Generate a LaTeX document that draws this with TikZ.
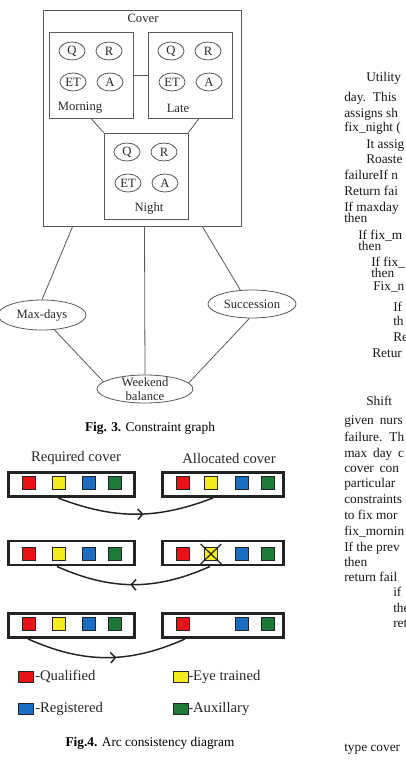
\documentclass[tikz,border=0pt]{standalone}
\usepackage{fontspec}
\setmainfont{Liberation Serif}
\usetikzlibrary{shapes.geometric,calc,arrows.meta,decorations.markings}
\definecolor{LineGray}{RGB}{90,90,90}
\definecolor{TextDark}{RGB}{40,40,40}
\definecolor{BoxEdge}{RGB}{35,35,35}
\definecolor{QualRed}{RGB}{230,20,25}
\definecolor{EyeYellow}{RGB}{245,236,30}
\definecolor{RegBlue}{RGB}{25,110,195}
\definecolor{AuxGreen}{RGB}{30,120,55}

\begin{document}
\begin{tikzpicture}[x=0.75pt,y=-0.75pt,
  shiftbox/.style={draw=LineGray,line width=0.7pt,minimum width=63pt,minimum height=64.5pt,inner sep=0pt},
  grade/.style={ellipse,draw=LineGray,line width=0.6pt,minimum width=19.5pt,minimum height=13.5pt,inner sep=0pt,font=\fontsize{9.5}{11}\selectfont,text=TextDark},
  cons/.style={ellipse,draw=LineGray,line width=0.6pt,inner sep=0pt,font=\fontsize{9.5}{10}\selectfont,text=TextDark},
  lbl/.style={font=\fontsize{9.5}{10}\selectfont,text=TextDark,inner sep=0pt},
  link/.style={LineGray,line width=0.6pt},
  covbox/.style={draw=BoxEdge,line width=2.2pt,minimum height=18pt,inner sep=0pt},
  sq/.style={draw=BoxEdge,line width=0.6pt,minimum width=10pt,minimum height=9.5pt,inner sep=0pt},
  legend/.style={font=\fontsize{11}{13}\selectfont,text=TextDark,anchor=west,inner sep=0pt},
  head/.style={font=\fontsize{11}{13}\selectfont,text=TextDark,inner sep=0pt},
  caption/.style={font=\fontsize{10}{12}\selectfont,text=black,inner sep=0pt},
  arcflow/.style={BoxEdge,line width=1.1pt,postaction={decorate},
    decoration={markings,mark=at position #1 with {\arrow{Straight Barb[length=3.5pt,width=8pt,line width=1.1pt]}}}},
  col/.style={font=\fontsize{10}{12}\selectfont,text=black!90,anchor=base west,inner sep=0pt},
  wide/.style={col,execute at begin node={\spaceskip=4.4pt\relax}}
]
\fill[white] (0,0) rectangle (406,768);
\useasboundingbox (0,0) rectangle (406,768);
\clip (0,0) rectangle (406,768);

% Fig. 3: constraint graph
\node[draw=LineGray,line width=0.7pt,minimum width=149pt,minimum height=162pt,inner sep=0pt] (cover) at (142.5,118) {};
\node[lbl] (covertxt) at (143,18) {Cover};

\node[shiftbox] (morn) at (91,75) {};
\node[grade] (mornQ) at (72,51) {Q};
\node[grade] (mornR) at (109,51) {R};
\node[grade] (mornET) at (73,82) {ET};
\node[grade] (mornA) at (110,82) {A};
\node[lbl] (morntxt) at (80,108) {Morning};

\node[shiftbox] (late) at (190,75) {};
\node[grade] (lateQ) at (171,51) {Q};
\node[grade] (lateR) at (208,51) {R};
\node[grade] (lateET) at (172,82) {ET};
\node[grade] (lateA) at (209,82) {A};
\node[lbl] (latetxt) at (178,108) {Late};

\node[shiftbox] (night) at (146,176) {};
\node[grade] (nightQ) at (127,152) {Q};
\node[grade] (nightR) at (164,152) {R};
\node[grade] (nightET) at (128,183) {ET};
\node[grade] (nightA) at (165,183) {A};
\node[lbl] (nighttxt) at (149,208) {Night};

\draw[link] (morn.east) -- (late.west);
\draw[link] (morn.south) -- (night.north west);
\draw[link] ([xshift=6.75pt]late.south) -- (night.north east);

\node[cons,minimum width=66pt,minimum height=22.5pt] (maxd) at (42,315) {Max-days};
\node[cons,minimum width=66pt,minimum height=21pt] (succ) at (252,304) {Succession};
\node[cons,minimum width=72pt,minimum height=21pt,
  label={[lbl,align=center]center:Weekend\\balance}] (wknd) at (145,389) {};

\draw[link] ($(cover.south west)!0.15!(cover.south east)$) -- (maxd.north);
\draw[link] ($(cover.south west)!0.51!(cover.south east)$) -- (wknd.north);
\draw[link] ($(cover.south west)!0.80!(cover.south east)$) -- (succ.130);
\draw[link] (maxd.-50) -- (wknd.170);
\draw[link] (succ.-100) -- (wknd.8);

\node[caption] (cap3) at (150,428) {\textbf{Fig. 3.} Constraint graph};

% Fig. 4: arc consistency
\node[head] (reqtxt) at (76,458) {Required cover};
\node[head] (alloctxt) at (229,458) {Allocated cover};

\node[covbox,minimum width=94.5pt] (req1) at (71.5,484.5) {};
\node[covbox,minimum width=90.8pt] (alloc1) at (223,484.5) {};
\node[covbox,minimum width=94.5pt] (req2) at (71.5,553) {};
\node[covbox,minimum width=90.8pt] (alloc2) at (223,553) {};
\node[covbox,minimum width=94.5pt] (req3) at (71.5,625.5) {};
\node[covbox,minimum width=90.8pt] (alloc3) at (223,625.5) {};

\node[sq,fill=QualRed] (r1q) at (29,483) {};
\node[sq,fill=EyeYellow] (r1e) at (59,483) {};
\node[sq,fill=RegBlue] (r1r) at (89,483) {};
\node[sq,fill=AuxGreen] (r1a) at (115,483) {};
\node[sq,fill=QualRed] (a1q) at (183,483) {};
\node[sq,fill=EyeYellow] (a1e) at (211,483) {};
\node[sq,fill=RegBlue] (a1r) at (242,483) {};
\node[sq,fill=AuxGreen] (a1a) at (268,483) {};

\node[sq,fill=QualRed] (r2q) at (29,554) {};
\node[sq,fill=EyeYellow] (r2e) at (59,554) {};
\node[sq,fill=RegBlue] (r2r) at (89,554) {};
\node[sq,fill=AuxGreen] (r2a) at (115,554) {};
\node[sq,fill=QualRed] (a2q) at (183,554) {};
\node[sq,fill=EyeYellow] (a2e) at (211,554) {};
\node[sq,fill=RegBlue] (a2r) at (242,554) {};
\node[sq,fill=AuxGreen] (a2a) at (268,554) {};
\draw[BoxEdge,line width=0.9pt] ([shift={(-2.5pt,2.5pt)}]a2e.north west) -- ([shift={(2.5pt,-2.5pt)}]a2e.south east);
\draw[BoxEdge,line width=0.9pt] ([shift={(2.5pt,2.5pt)}]a2e.north east) -- ([shift={(-2.5pt,-2.5pt)}]a2e.south west);

\node[sq,fill=QualRed] (r3q) at (29,624) {};
\node[sq,fill=EyeYellow] (r3e) at (59,624) {};
\node[sq,fill=RegBlue] (r3r) at (89,624) {};
\node[sq,fill=AuxGreen] (r3a) at (115,624) {};
\node[sq,fill=QualRed] (a3q) at (183,624) {};
\node[sq,fill=RegBlue] (a3r) at (242,624) {};
\node[sq,fill=AuxGreen] (a3a) at (268,624) {};

\draw[arcflow=0.55] ([xshift=-10.1pt]req1.south) to[bend right=21] ([xshift=-7.5pt]alloc1.south);
\draw[arcflow=0.52] ([xshift=-9.75pt]alloc2.south) to[bend left=24] ([xshift=-10.9pt]req2.south);
\draw[arcflow=0.56] ([xshift=-32.6pt]req3.south) to[bend right=24] ([xshift=-28.5pt]alloc3.south);

\node[sq,fill=QualRed,minimum width=11pt,minimum height=8.5pt] (keyq) at (26,677) {};
\node[legend] (keyqtxt) at (35,677) {-Qualified};
\node[sq,fill=EyeYellow,minimum width=11pt,minimum height=8.5pt] (keye) at (181,677) {};
\node[legend] (keyetxt) at (188,677) {-Eye trained};
\node[sq,fill=RegBlue,minimum width=11pt,minimum height=8.5pt] (keyr) at (26,709) {};
\node[legend] (keyrtxt) at (35,709) {-Registered};
\node[sq,fill=AuxGreen,minimum width=11pt,minimum height=8.5pt] (keya) at (181,709) {};
\node[legend] (keyatxt) at (188,709) {-Auxillary};

\node[caption] (cap4) at (150,743) {\textbf{Fig.4.} Arc consistency diagram};

% next column of the page
\node[col] (t1) at (366,81) {Utility};
\node[wide] (t2) at (344,101) {day. This};
\node[col] (t3) at (344,117) {assigns sh};
\node[col] (t4) at (344,131) {fix\_night (};
\node[col] (t5) at (366,148) {It assig};
\node[col] (t6) at (366,163) {Roaste};
\node[col] (t7) at (344,179) {failureIf n};
\node[col] (t8) at (344,195) {Return fai};
\node[col] (t9) at (344,211) {If maxday};
\node[col] (t10) at (344,222) {then};
\node[col] (t11) at (358,239) {If fix\_m};
\node[col] (t12) at (358,250) {then};
\node[col] (t13) at (371,266) {If fix\_};
\node[col] (t14) at (371,277) {then};
\node[col] (t15) at (373,290) {Fix\_n};
\node[col] (t16) at (393,311) {If};
\node[col] (t17) at (393,325) {th};
\node[col] (t18) at (393,341) {Re};
\node[col] (t19) at (372,357) {Retur};
\node[col] (t20) at (366,405) {Shift};
\node[wide] (t21) at (344,424) {given nurs};
\node[wide] (t22) at (344,441) {failure. Th};
\node[wide] (t23) at (344,457) {max day c};
\node[wide] (t24) at (344,472) {cover con};
\node[col] (t25) at (344,487) {particular};
\node[col] (t26) at (344,503) {constraints};
\node[col] (t27) at (344,519) {to fix mor};
\node[col] (t28) at (344,535) {fix\_mornin};
\node[col] (t29) at (344,551) {If the prev};
\node[col] (t30) at (344,566) {then};
\node[col] (t31) at (344,581) {return fail};
\node[col] (t32) at (393,596) {if};
\node[col] (t33) at (393,612) {the};
\node[col] (t34) at (393,627) {ret};
\node[col] (t35) at (344,751) {type cover};
\end{tikzpicture}
\end{document}
